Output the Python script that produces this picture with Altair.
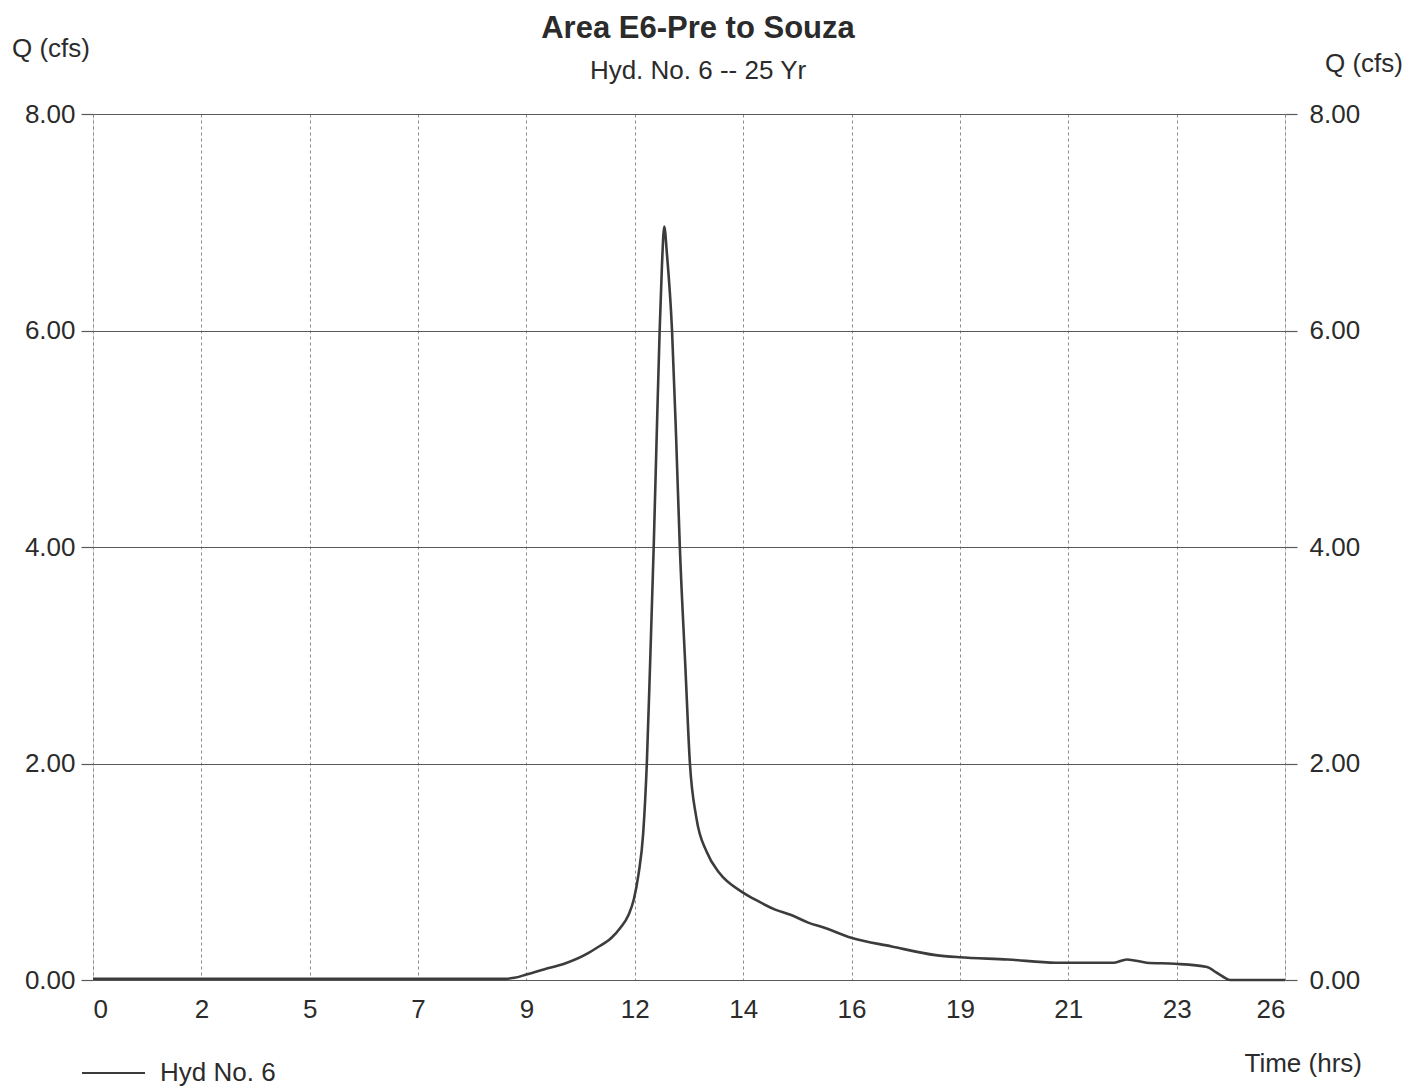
import altair as alt
import pandas as pd
import json

time_hrs = [0, 3, 6, 8, 9.0, 9.19, 9.45, 9.85, 10.28, 10.81, 11.0, 11.31, 11.5, 11.68,
            11.8, 11.9, 12.0, 12.08, 12.15, 12.23, 12.3, 12.36, 12.41, 12.46, 12.52,
            12.63, 12.72, 12.8, 12.92, 13.02, 13.16, 13.39, 13.66, 14.17, 14.5, 14.88,
            15.23, 15.6, 15.97, 16.54, 17.42, 18.38, 18.9, 19.95, 21.0, 22.0, 22.27,
            22.55, 22.98, 23.6, 24.3, 24.5, 24.65, 24.8, 25.2, 26.0]
flow_cfs = [0.01, 0.01, 0.01, 0.01, 0.01, 0.02, 0.05, 0.1, 0.15, 0.25, 0.30, 0.39, 0.48, 0.6,
            0.75, 0.98, 1.35, 2.0, 2.9, 4.0, 5.1, 6.0, 6.6, 6.96, 6.7,
            6.0, 5.0, 4.0, 2.9, 2.0, 1.5, 1.18, 0.99, 0.81, 0.73, 0.65,
            0.6, 0.53, 0.48, 0.39, 0.31, 0.23, 0.21, 0.19, 0.16, 0.16, 0.16,
            0.19, 0.16, 0.15, 0.12, 0.07, 0.03, 0.0, 0.0, 0.0]

x_tick_labels = ["0", "2", "5", "7", "9", "12", "14", "16", "19", "21", "23", "26"]
x_tick_values = [i * 26 / 11 for i in range(12)]
y_tick_values = [0, 2, 4, 6, 8]

title_text = "Area E6-Pre to Souza"
subtitle_text = "Hyd. No. 6 -- 25 Yr"
y_title = "Q (cfs)"
x_title = "Time (hrs)"
legend_label = "Hyd No. 6"

df = pd.DataFrame({"t": time_hrs, "q": flow_cfs})

W, H = 1192, 866
FONT = "Liberation Sans"
TXT = "#2b2b2b"
label_expr = json.dumps(x_tick_labels) + "[round(datum.value*11/26)]"

xenc = alt.X("t:Q", scale=alt.Scale(domain=[0, 26], nice=False, zero=False),
             axis=alt.Axis(values=x_tick_values, labelExpr=label_expr, title=None,
                           grid=True, gridDash=[3, 3], gridColor="#8a8a8a", gridWidth=1,
                           ticks=False, domain=False, labelFontSize=26, labelPadding=16,
                           labelColor=TXT, labelFont=FONT, labelFontWeight="normal"))

yscale = alt.Scale(domain=[0, 8], nice=False)

line = alt.Chart(df).mark_line(color="#3c3c3c", strokeWidth=2.6, interpolate="monotone").encode(
    x=xenc,
    y=alt.Y("q:Q", scale=yscale,
            axis=alt.Axis(values=y_tick_values, format=".2f", title=None, orient="left",
                          grid=True, gridColor="#5a5a5a", gridWidth=1.2,
                          ticks=True, tickSize=12, tickColor="#5a5a5a", tickWidth=1.2,
                          domain=False, labelFontSize=26, labelPadding=6,
                          labelColor=TXT, labelFont=FONT)),
)

right_axis = alt.Chart(df).mark_line(opacity=0).encode(
    x=xenc,
    y=alt.Y("q:Q", scale=yscale,
            axis=alt.Axis(values=y_tick_values, format=".2f", title=None, orient="right",
                          grid=False, ticks=True, tickSize=12, tickColor="#5a5a5a",
                          tickWidth=1.2, domain=False, labelFontSize=26, labelPadding=12,
                          labelColor=TXT, labelFont=FONT)),
)


def text_layer(txt, x, y, size, align="left", weight="normal", baseline="alphabetic"):
    return alt.Chart(pd.DataFrame({"label": [txt]})).mark_text(
        align=align, baseline=baseline, fontSize=size, font=FONT, fontWeight=weight, color=TXT
    ).encode(x=alt.value(x), y=alt.value(y), text="label:N")


title = text_layer(title_text, 605, -76, 31, align="center", weight="bold")
subtitle = text_layer(subtitle_text, 605, -35, 26, align="center")
yl_title = text_layer(y_title, -81, -57, 26)
yr_title = text_layer(y_title, 1232, -42, 26)
xt = text_layer(x_title, 1269, 958, 26, align="right")
leg_text = text_layer(legend_label, 67, 959, 26, baseline="middle")

leg_line = alt.Chart(pd.DataFrame({"label": [legend_label]})).mark_rule(
    color="#3c3c3c", strokeWidth=2).encode(
    x=alt.value(-11), x2=alt.value(52), y=alt.value(959))

chart = alt.layer(line, right_axis, title, subtitle, yl_title, yr_title, xt, leg_line, leg_text).resolve_axis(
    y="independent"
).properties(
    width=W, height=H,
    autosize=alt.AutoSizeParams(type="none"),
    padding={"left": 85, "top": 106, "right": 130, "bottom": 106},
).configure_view(stroke=None).configure(background="white")

chart.save("out.html", embed_options={"renderer": "svg", "actions": False})
